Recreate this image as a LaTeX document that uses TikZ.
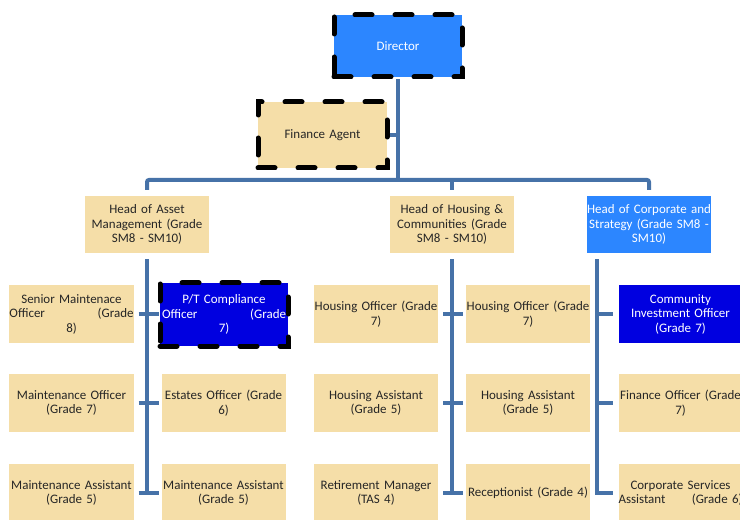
\documentclass[tikz,border=0pt]{standalone}
\usepackage{fontspec}
\setmainfont{Carlito}
\usetikzlibrary{calc}
\definecolor{boxtan}{RGB}{245,222,168}
\definecolor{dirblue}{RGB}{44,134,255}
\definecolor{ptblue}{RGB}{0,0,224}
\definecolor{linkblue}{RGB}{70,114,168}
\begin{document}
\begin{tikzpicture}[x=1bp,y=-1bp,
    post/.style={fill=boxtan,text=black!85,minimum width=121bp,minimum height=58bp,text width=124bp,align=center,inner sep=0pt,font=\fontsize{13}{14.5}\selectfont},
    lead/.style={post,fill=dirblue,text=white},
    flag/.style={post,fill=ptblue,text=white},
    vacant/.style={draw=black,line width=5bp,line cap=round,dash pattern=on 17bp off 23bp},
    link/.style={draw=linkblue,line width=4bp}]
    \useasboundingbox (0,0) rectangle (740,520);
    % top
    \node[lead,vacant,minimum width=128bp,minimum height=62bp] (dir) at (398,46) {Director};
    \node[post,vacant,minimum width=129bp,minimum height=66bp] (fa) at (322.5,135) {Finance Agent};
    % heads
    \node[post,minimum height=57bp] (am) at (147,224.5) {Head of Asset\\Management (Grade\\SM8 - SM10)};
    \node[post,minimum height=57bp] (hh) at (452,224.5) {Head of Housing \&\\Communities (Grade\\SM8 - SM10)};
    \node[lead,minimum height=57bp] (hc) at (649,224.5) {Head of Corporate and\\Strategy (Grade SM8 -\\SM10)};
    % asset management
    \node[post] (sm) at (71.5,314) {Senior Maintenace\\Officer\hfill(Grade\\8)};
    \node[flag,vacant,minimum width=128bp,minimum height=63bp] (pt) at (224,314.5) {P/T Compliance\\Officer\hfill(Grade\\7)};
    \node[post] (mo) at (71.5,403) {Maintenance Officer\\(Grade 7)};
    \node[post] (eo) at (223.5,403) {Estates Officer (Grade\\6)};
    \node[post] (ma1) at (71.5,493) {Maintenance Assistant\\(Grade 5)};
    \node[post] (ma2) at (223.5,493) {Maintenance Assistant\\(Grade 5)};
    % housing
    \node[post] (ho1) at (376,314) {Housing Officer (Grade\\7)};
    \node[post] (ho2) at (528,314) {Housing Officer (Grade\\7)};
    \node[post] (ha1) at (376,403) {Housing Assistant\\(Grade 5)};
    \node[post] (ha2) at (528,403) {Housing Assistant\\(Grade 5)};
    \node[post] (rm) at (376,493) {Retirement Manager\\(TAS 4)};
    \node[post] (rc) at (528,493) {Receptionist (Grade 4)};
    % corporate
    \node[flag] (ci) at (680.5,314) {Community\\Investment Officer\\(Grade 7)};
    \node[post] (fo) at (680.5,403) {Finance Officer (Grade\\7)};
    \node[post] (cs) at (680.5,493) {Corporate Services\\Assistant\hfill(Grade 6)};
    % connectors
    \coordinate (hub) at (398,180);
    \draw[link] (dir.south) -- (hub);
    \draw[link] (fa.east) -- (fa.east -| hub);
    \draw[link,rounded corners=2bp] ([yshift=6bp]am.north) |- (hub) -| ([yshift=6bp]hc.north);
    \draw[link] (hub) -| ([yshift=6bp]hh.north);
    \draw[link] ([yshift=-6bp]am.south) -- (am.south |- ma1);
    \draw[link] ([yshift=-6bp]hh.south) -- (hh.south |- rm);
    \coordinate (cspine) at ([shift={(10bp,-6bp)}]hc.south west);
    \draw[link] (cspine) |- ([xshift=-5bp]cs.west);
    \foreach \n in {sm,mo,ma1,ho1,ha1,rm}
        \draw[link] ([xshift=5bp]\n.east) -- ++(20,0);
    \foreach \n in {ci,fo}
        \draw[link] (\n.west -| cspine) -- ([xshift=-5bp]\n.west);
\end{tikzpicture}
\end{document}
